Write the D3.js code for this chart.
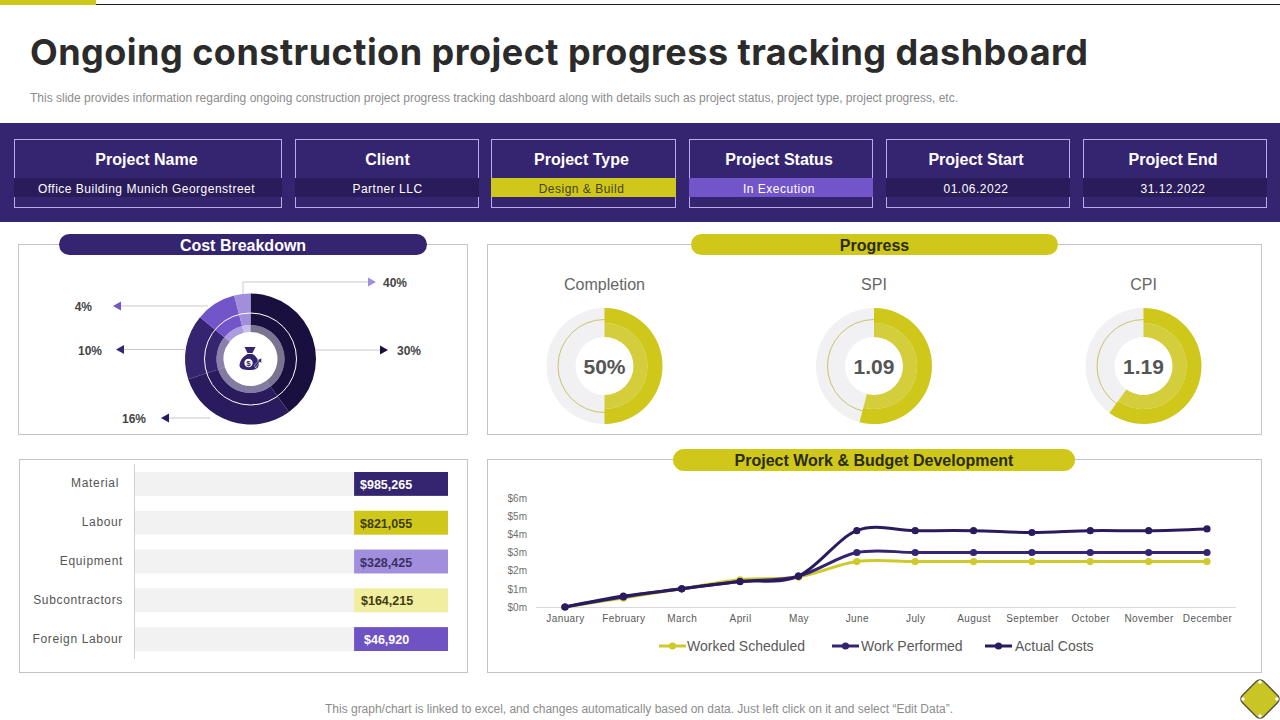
<!DOCTYPE html>
<html>
<head>
<meta charset="utf-8">
<script src="https://cdn.jsdelivr.net/npm/d3@7"></script>
<style>
  html, body { margin: 0; padding: 0; background: #fff; }
  svg { display: block; }
  text { font-family: "Liberation Sans", Arial, sans-serif; }
  .domain { stroke: #d9d9d9; }
</style>
</head>
<body>
<div id="chart"></div>
<script>
const PURPLE = '#35246f';
const OLIVE = '#cfc81a';

// header cards
const cardTitles = ['Project Name', 'Client', 'Project Type', 'Project Status', 'Project Start', 'Project End'];
const cardValues = ['Office Building Munich Georgenstreet', 'Partner LLC', 'Design & Build', 'In Execution', '01.06.2022', '31.12.2022'];

// cost breakdown donut
const costShares = [40, 30, 16, 10, 4];
const costColors = ['#1a1040', '#2a1b5e', '#35246f', '#7255c8', '#a18edc'];
const costLabels = ['30%', '16%', '10%', '4%', '40%'];

// progress gauges
const gaugeTitles = ['Completion', 'SPI', 'CPI'];
const gaugeShares = [50, 54, 60];
const gaugeLabels = ['50%', '1.09', '1.19'];

// cost table
const barCategories = ['Material', 'Labour', 'Equipment', 'Subcontractors', 'Foreign Labour'];
const barValues = ['$985,265', '$821,055', '$328,425', '$164,215', '$46,920'];
const barFill = [30, 30, 30, 30, 30];
const barColors = ['#35246f', '#cfc81a', '#a18edc', '#f1eea0', '#6f52c4'];
const barTextColors = ['#fff', '#3f3c10', '#3a2f66', '#3f3c10', '#fff'];

// work and budget lines
const months = ['January', 'February', 'March', 'April', 'May', 'June', 'July', 'August', 'September', 'October', 'November', 'December'];
const yTicks = [0, 1, 2, 3, 4, 5, 6];
const workedScheduled = [0, 0.5, 1, 1.5, 1.65, 2.5, 2.5, 2.5, 2.5, 2.5, 2.5, 2.5];
const workPerformed = [0, 0.55, 1, 1.4, 1.7, 3, 3, 3, 3, 3, 3, 3];
const actualCosts = [0, 0.6, 1, 1.4, 1.7, 4.2, 4.2, 4.2, 4.1, 4.2, 4.2, 4.3];

const svg = d3.select('#chart').append('svg').attr('width', 1280).attr('height', 720);

// top rule and title
svg.append('line').attr('x1', 96).attr('x2', 1280).attr('y1', 4.5).attr('y2', 4.5).attr('stroke', '#222');
svg.append('rect').attr('width', 96).attr('height', 5).attr('fill', OLIVE);

svg.append('text')
  .attr('x', 30).attr('y', 65)
  .attr('textLength', 1058)
  .attr('lengthAdjust', 'spacing')
  .style('font-family', 'Inter')
  .style('font-size', '36px')
  .style('font-weight', 700)
  .attr('fill', '#2b2b2b')
  .text('Ongoing construction project progress tracking dashboard');

svg.append('text')
  .attr('x', 30).attr('y', 102)
  .attr('textLength', 928)
  .style('font-size', '12px')
  .attr('fill', '#8c8c8c')
  .text('This slide provides information regarding ongoing construction project progress tracking dashboard along with details such as project status, project type,  project progress, etc.');

svg.append('text')
  .attr('x', 325).attr('y', 712.5)
  .attr('textLength', 628)
  .style('font-size', '12px')
  .attr('fill', '#8c8c8c')
  .text('This graph/chart is linked to excel,  and changes automatically based on data. Just left click on it and select \u201CEdit Data\u201D.');

// header band
svg.append('rect').attr('y', 123).attr('width', 1280).attr('height', 99).attr('fill', PURPLE);

const cardX = [14.5, 295.5, 491.5, 689.5, 886.5, 1083.5];
const cardW = [267, 183, 184, 183, 183, 183];
const cardFill = ['#2a1b5a', '#2a1b5a', OLIVE, '#7255c8', '#2a1b5a', '#2a1b5a'];
const cardText = ['#fff', '#fff', '#45421a', '#fff', '#fff', '#fff'];
const cardShift = [-1.5, 0.5, -2, -2, -2, -2];

const cards = svg.selectAll('.card').data(cardTitles).enter().append('g')
  .attr('class', 'card')
  .attr('transform', (d, i) => `translate(${cardX[i]},139.5)`);

cards.append('rect')
  .attr('width', (d, i) => cardW[i]).attr('height', 68)
  .attr('fill', 'none').attr('stroke', '#b9abea');
cards.append('rect')
  .attr('x', -0.5).attr('y', 38.5)
  .attr('width', (d, i) => cardW[i] + 1).attr('height', 19)
  .attr('fill', (d, i) => cardFill[i]);
cards.append('text')
  .attr('x', (d, i) => cardW[i] / 2 + cardShift[i]).attr('y', 25)
  .attr('text-anchor', 'middle')
  .attr('fill', '#fff')
  .style('font-size', '16px').style('font-weight', 700)
  .text(d => d);
cards.append('text')
  .attr('x', (d, i) => cardW[i] / 2 + cardShift[i]).attr('y', 53)
  .attr('text-anchor', 'middle')
  .attr('fill', (d, i) => cardText[i])
  .style('font-size', '12px')
  .style('letter-spacing', '0.5px')
  .text((d, i) => cardValues[i]);

// panels with their pill titles
function panel(x, y, w, h) {
  svg.append('rect').attr('x', x).attr('y', y).attr('width', w).attr('height', h)
    .attr('fill', '#fff').attr('stroke', '#c4c4c4');
}
function pill(x, y, w, h, fill, color, label) {
  svg.append('rect').attr('x', x).attr('y', y).attr('width', w).attr('height', h)
    .attr('rx', h / 2).attr('fill', fill);
  svg.append('text')
    .attr('x', x + w / 2).attr('y', y + 17)
    .attr('text-anchor', 'middle')
    .attr('fill', color)
    .style('font-size', '16px').style('font-weight', 700)
    .text(label);
}
panel(18.5, 244.5, 449, 190);
panel(487.5, 244.5, 774, 190);
panel(19.5, 459.5, 448, 213);
panel(487.5, 459.5, 774, 213);
pill(59, 234, 368, 21, PURPLE, '#fff', 'Cost Breakdown');
pill(691, 234, 367, 21, OLIVE, '#2b2b10', 'Progress');
pill(673, 449, 402, 22, OLIVE, '#2b2b10', 'Project Work & Budget Development');

// cost breakdown donut
const costCx = 250.5, costCy = 359;
const pie = d3.pie().sort(null);

// leader lines sit under the donut
const leaders = [
  { path: 'M316,350H380', tip: [380, 350, 1], lx: 397, ly: 350 },
  { path: 'M210,418H169', tip: [169, 418, -1], lx: 146, ly: 418, end: true },
  { path: 'M185,349.5H124', tip: [124, 349.5, -1], lx: 102, ly: 350, end: true },
  { path: 'M208,306H121', tip: [121, 306, -1], lx: 92, ly: 306, end: true },
  { path: 'M243,294V282H368', tip: [368, 282, 1], lx: 383, ly: 282 }
];
leaders.forEach((l, i) => {
  svg.append('path').attr('d', l.path).attr('fill', 'none').attr('stroke', '#c9c7d2');
  const [bx, by, dir] = l.tip;
  svg.append('path')
    .attr('d', `M${bx},${by - 4.5}L${bx + dir * 8},${by}L${bx},${by + 4.5}Z`)
    .attr('fill', costColors[i]);
  svg.append('text')
    .attr('x', l.lx).attr('y', l.ly + 4.5)
    .attr('text-anchor', l.end ? 'end' : 'start')
    .attr('fill', '#444')
    .style('font-size', '12px').style('font-weight', 700)
    .text(costLabels[i]);
});

const costG = svg.append('g').attr('transform', `translate(${costCx},${costCy})`);
const costOuter = d3.arc().innerRadius(34).outerRadius(65.5);
const costInner = d3.arc().innerRadius(27).outerRadius(34);
costG.selectAll('.slice').data(pie(costShares)).enter().append('path')
  .attr('class', 'slice')
  .attr('d', costOuter)
  .attr('fill', (d, i) => costColors[i]);
costG.selectAll('.slice-inner').data(pie(costShares)).enter().append('path')
  .attr('class', 'slice-inner')
  .attr('d', costInner)
  .attr('fill', (d, i) => costColors[i])
  .attr('fill-opacity', 0.58);
costG.append('circle').attr('r', 46).attr('fill', 'none').attr('stroke', '#fff').attr('stroke-width', 1);

// money bag icon
const bag = costG.append('g').attr('fill', PURPLE);
bag.append('path').attr('d', 'M-6,-12 L5,-12 L2,-6 L-3,-6 Z');
bag.append('path').attr('d', 'M-3,-5 L2,-5 C7,-2 9,3 8,7 C7,10 4,11 -1,11 C-7,11 -10,10 -11,7 C-11,2 -8,-2 -3,-5 Z');
bag.append('circle').attr('cx', -2).attr('cy', 4).attr('r', 4.2).attr('fill', '#fff');
bag.append('text').attr('x', -2).attr('y', 7).attr('text-anchor', 'middle')
  .attr('fill', PURPLE).style('font-size', '8px').style('font-weight', 700).text('$');
bag.append('path').attr('d', 'M5,9 L9,3 L11,4 L11,-1 L7,1 L8,2 L4,6 Z').attr('stroke', '#fff').attr('stroke-width', 0.5);

// progress gauges
const gaugeX = [604.5, 874, 1143.5];
const gaugeCy = 366;
const trackArc = d3.arc().innerRadius(29).outerRadius(58).startAngle(0).endAngle(2 * Math.PI);
const gaugeOuter = d3.arc().innerRadius(43).outerRadius(58);
const gaugeInner = d3.arc().innerRadius(29).outerRadius(43);

gaugeTitles.forEach((title, i) => {
  const g = svg.append('g').attr('transform', `translate(${gaugeX[i]},${gaugeCy})`);
  const slices = pie([gaugeShares[i], 100 - gaugeShares[i]]);
  g.append('path').attr('d', trackArc).attr('fill', '#f1f1f3');
  g.append('circle').attr('r', 46.5).attr('fill', 'none').attr('stroke', '#c9c46a').attr('stroke-width', 1);
  g.append('path').datum(slices[0]).attr('d', gaugeOuter).attr('fill', OLIVE);
  g.append('path').datum(slices[0]).attr('d', gaugeInner).attr('fill', '#d4ce3c');
  g.append('text').attr('y', 8).attr('text-anchor', 'middle')
    .attr('fill', '#555').style('font-size', '21px').style('font-weight', 700)
    .text(gaugeLabels[i]);
  g.append('text').attr('y', -76).attr('text-anchor', 'middle')
    .attr('fill', '#666').style('font-size', '16px')
    .text(title);
});

// cost table
const barY = d3.scaleBand().domain(barCategories).range([472, 651]).paddingInner(0.385).paddingOuter(0);
const barX = d3.scaleLinear().domain([0, 100]).range([135, 448]);
const labelRight = [119, 123, 123, 123, 123];

svg.append('line').attr('x1', 134.5).attr('x2', 134.5).attr('y1', 464).attr('y2', 659).attr('stroke', '#d0d0d0');

svg.selectAll('.track').data(barCategories).enter().append('rect')
  .attr('class', 'track')
  .attr('x', barX(0)).attr('y', d => barY(d))
  .attr('width', barX(100) - barX(0)).attr('height', barY.bandwidth())
  .attr('fill', '#f2f2f2');
svg.selectAll('.bar').data(barCategories).enter().append('rect')
  .attr('class', 'bar')
  .attr('x', (d, i) => barX(100 - barFill[i])).attr('y', d => barY(d))
  .attr('width', (d, i) => barX(100) - barX(100 - barFill[i])).attr('height', barY.bandwidth())
  .attr('fill', (d, i) => barColors[i]);
svg.selectAll('.bar-value').data(barCategories).enter().append('text')
  .attr('class', 'bar-value')
  .attr('x', (d, i) => i === 4 ? 364 : i === 3 ? 361 : 360).attr('y', d => barY(d) + barY.bandwidth() / 2 + 5)
  .attr('fill', (d, i) => barTextColors[i])
  .style('font-size', '12.5px').style('font-weight', 700)
  .text((d, i) => barValues[i]);
svg.selectAll('.bar-label').data(barCategories).enter().append('text')
  .attr('class', 'bar-label')
  .attr('x', (d, i) => labelRight[i]).attr('y', d => barY(d) + barY.bandwidth() / 2 + 3.5)
  .attr('text-anchor', 'end')
  .attr('fill', '#555')
  .style('font-size', '12px')
  .style('letter-spacing', '0.65px')
  .text(d => d);

// work and budget lines
const x = d3.scalePoint().domain(months).range([565, 1207]);
const y = d3.scaleLinear().domain([0, 6]).range([607, 498]);

const xAxis = svg.append('g').attr('transform', 'translate(0,607)')
  .call(d3.axisBottom(x).tickSize(0).tickPadding(8));
xAxis.select('.domain').attr('d', 'M536,0.5H1236').attr('stroke', '#d9d9d9');
xAxis.selectAll('text')
  .attr('fill', '#595959')
  .style('font-family', '"Liberation Sans", Arial, sans-serif')
  .style('font-size', '10px')
  .style('letter-spacing', '0.4px');

const yAxis = svg.append('g').attr('transform', 'translate(528,0)')
  .call(d3.axisLeft(y).tickValues(yTicks).tickFormat(d => `$${d}m`).tickSize(0).tickPadding(1));
yAxis.select('.domain').remove();
yAxis.selectAll('text')
  .attr('fill', '#707070')
  .style('font-family', '"Liberation Sans", Arial, sans-serif')
  .style('font-size', '10px');

const line = d3.line()
  .x((d, i) => x(months[i]))
  .y(d => y(d))
  .curve(d3.curveCatmullRom.alpha(0));

const seriesData = [workedScheduled, workPerformed, actualCosts];
const seriesNames = ['Worked Scheduled', 'Work Performed', 'Actual Costs'];
const seriesColors = ['#cfca2a', '#35246f', '#2a1b5e'];

seriesData.forEach((values, s) => {
  svg.append('path')
    .attr('d', line(values))
    .attr('fill', 'none')
    .attr('stroke', seriesColors[s])
    .attr('stroke-width', 3);
  svg.selectAll(`.dot-${s}`).data(values).enter().append('circle')
    .attr('class', `dot-${s}`)
    .attr('cx', (d, i) => x(months[i]))
    .attr('cy', d => y(d))
    .attr('r', 3.6)
    .attr('fill', seriesColors[s]);
});

// legend
const legendX = [659, 832, 985];
const legendTextX = [28, 29, 30];
seriesNames.forEach((name, s) => {
  const g = svg.append('g').attr('transform', `translate(${legendX[s]},646)`);
  g.append('line').attr('x2', 27).attr('stroke', seriesColors[s]).attr('stroke-width', 3);
  g.append('circle').attr('cx', 13.5).attr('r', 3.6).attr('fill', seriesColors[s]);
  g.append('text').attr('x', legendTextX[s]).attr('y', 5)
    .attr('fill', '#595959').style('font-size', '14px')
    .text(name);
});

// corner badge
const badge = svg.append('g').attr('transform', 'translate(1260,699)');
badge.append('rect')
  .attr('x', -15).attr('y', -15).attr('width', 30).attr('height', 30).attr('rx', 5)
  .attr('transform', 'rotate(45)')
  .attr('fill', '#c9c524').attr('stroke', '#4d4d3a').attr('stroke-width', 1.3);
[[0, -17], [17, 0], [0, 17], [-17, 0]].forEach(p => {
  badge.append('circle').attr('cx', p[0]).attr('cy', p[1]).attr('r', 1.8).attr('fill', '#fff');
});
</script>
</body>
</html>
